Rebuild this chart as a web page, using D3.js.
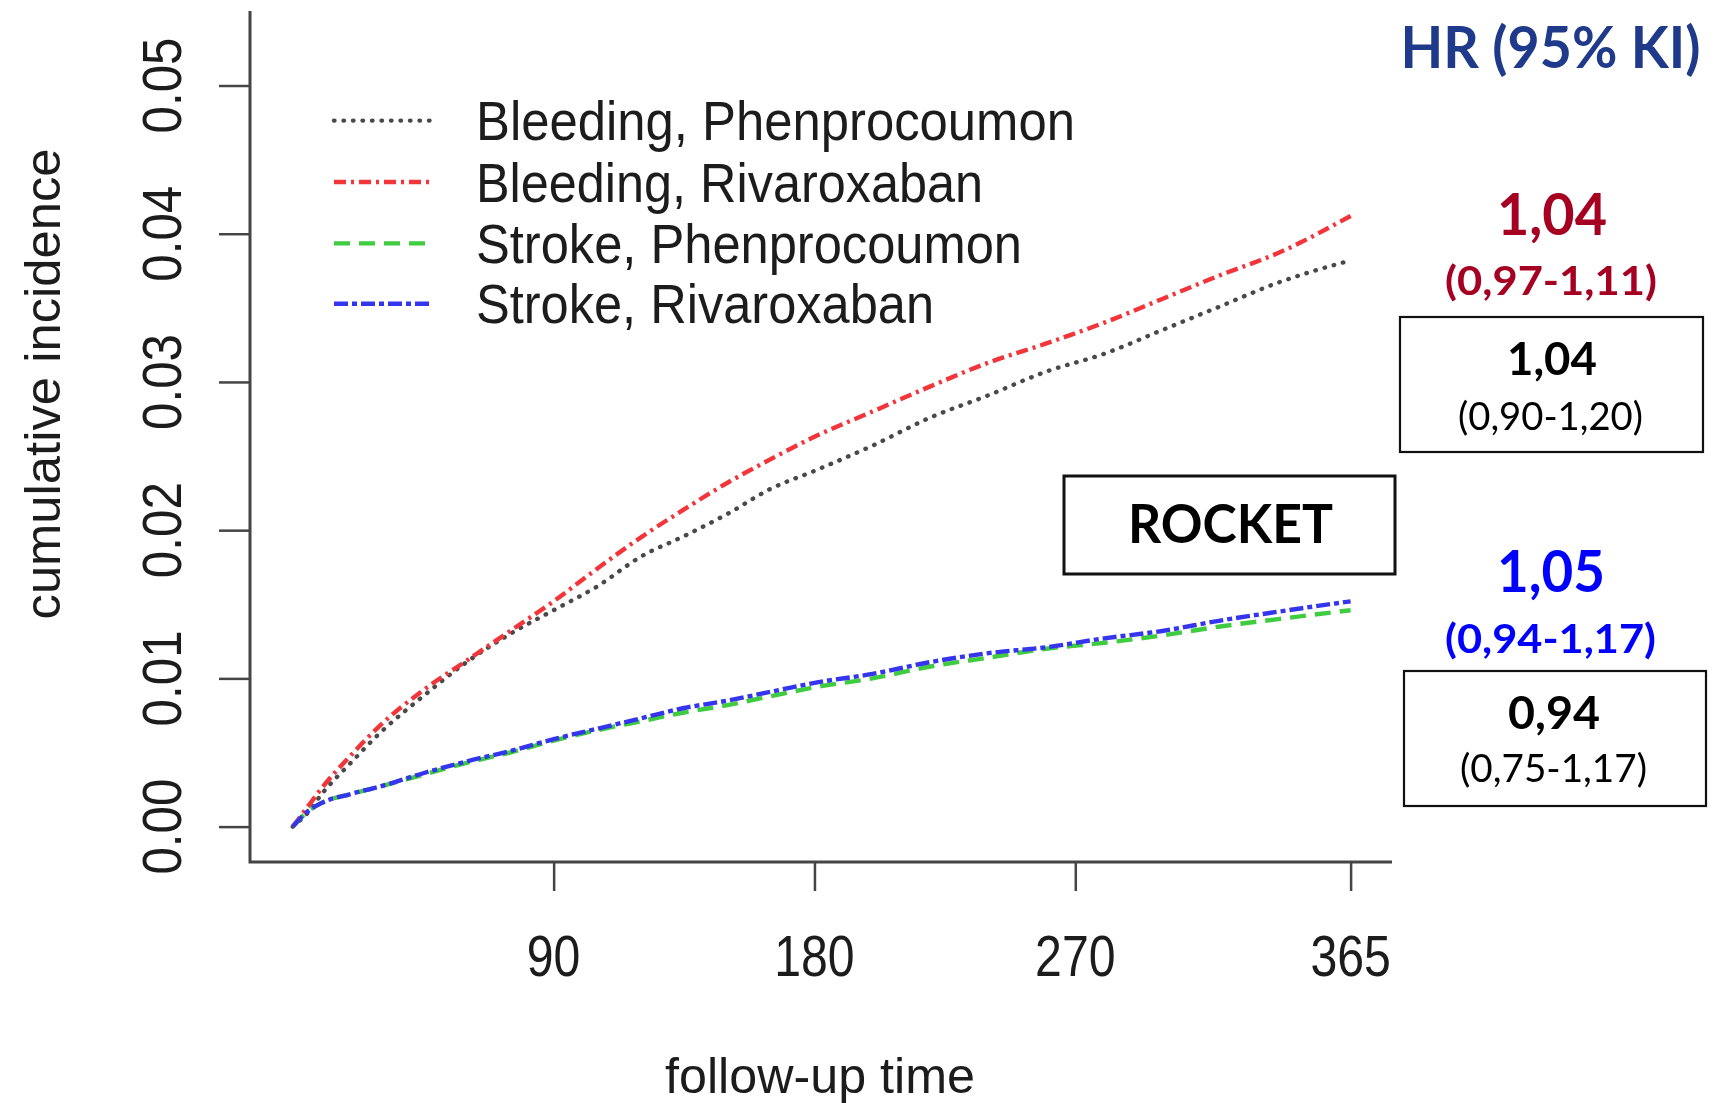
<!DOCTYPE html>
<html>
<head>
<meta charset="utf-8">
<script src="https://cdn.jsdelivr.net/npm/d3@7"></script>
<style>
  html, body { margin: 0; padding: 0; background: #fff; }
  svg { display: block; }
</style>
</head>
<body>
<svg id="chart" width="1719" height="1103"></svg>
<script>
// Follow-up days at which the cumulative incidence curves are sampled
const days = [0, 5, 10, 20, 30, 45, 60, 75, 90, 105, 120, 135, 150, 165, 180, 200, 220, 240, 260, 280, 300, 320, 340, 365];

// Cumulative incidence per series
const bleedingPhenprocoumon = [0, 0.0009, 0.0022, 0.0043, 0.0063, 0.0088, 0.0111, 0.0130, 0.0146, 0.0162, 0.0182, 0.0196, 0.0211, 0.0228, 0.0240, 0.0257, 0.0276, 0.0291, 0.0307, 0.0319, 0.0335, 0.0351, 0.0367, 0.0382];
const bleedingRivaroxaban   = [0, 0.0013, 0.0026, 0.0048, 0.0068, 0.0092, 0.0112, 0.0132, 0.0152, 0.0174, 0.0195, 0.0214, 0.0232, 0.0248, 0.0263, 0.0280, 0.0297, 0.0313, 0.0326, 0.0340, 0.0356, 0.0372, 0.0387, 0.0412];
const strokePhenprocoumon   = [0, 0.0010, 0.0016, 0.0022, 0.0027, 0.0035, 0.0043, 0.0050, 0.0058, 0.0065, 0.0071, 0.0077, 0.0082, 0.0088, 0.0094, 0.0100, 0.0108, 0.0114, 0.0120, 0.0124, 0.0129, 0.0135, 0.0140, 0.0146];
const strokeRivaroxaban     = [0, 0.0010, 0.0016, 0.0022, 0.0027, 0.0036, 0.0044, 0.0051, 0.0059, 0.0066, 0.0073, 0.0080, 0.0085, 0.0091, 0.0097, 0.0103, 0.0111, 0.0117, 0.0121, 0.0127, 0.0132, 0.0139, 0.0145, 0.0152];

const seriesNames = ["Bleeding, Phenprocoumon", "Bleeding, Rivaroxaban", "Stroke, Phenprocoumon", "Stroke, Rivaroxaban"];
const seriesValues = [bleedingPhenprocoumon, bleedingRivaroxaban, strokePhenprocoumon, strokeRivaroxaban];

// Axis ticks
const xTicks = [90, 180, 270, 365];
const yTicks = [0, 0.01, 0.02, 0.03, 0.04, 0.05];

// Hazard ratio annotations
const hrHeader = "HR (95% KI)";
const hrBleeding = ["1,04", "(0,97-1,11)"];
const hrBleedingTrial = ["1,04", "(0,90-1,20)"];
const hrStroke = ["1,05", "(0,94-1,17)"];
const hrStrokeTrial = ["0,94", "(0,75-1,17)"];
const trialName = "ROCKET";

// ---- styling ----
const lineStyles = [
  { color: "#4a4a4a", dash: "0.5,9", cap: "round" },
  { color: "#f2363a", dash: "12,5,3,5", cap: "butt" },
  { color: "#3fcc3f", dash: "16,9", cap: "butt" },
  { color: "#3535ee", dash: "14,4,5,4", cap: "butt" }
];
const plotFont = "'Liberation Sans', Arial, sans-serif";
const noteFont = "Lato, 'Open Sans', sans-serif";
const ink = "#1e1e1e";

const svg = d3.select("#chart");
const defs = svg.append("defs");
defs.append("filter").attr("id", "soft")
  .append("feGaussianBlur").attr("stdDeviation", 0.6);

const x = d3.scaleLinear().domain([0, 365]).range([292.8, 1350.6]);
const y = d3.scaleLinear().domain([0, 0.05]).range([826.6, 85.5]);

const plot = svg.append("g").attr("filter", "url(#soft)");

// L-shaped frame
plot.append("path")
  .attr("d", "M250,11 V862 H1392")
  .attr("fill", "none").attr("stroke", "#444").attr("stroke-width", 3);

// y axis
const yAxis = plot.append("g").attr("transform", "translate(250,0)")
  .call(d3.axisLeft(y).tickValues(yTicks).tickSize(31).tickFormat(""));
yAxis.select(".domain").remove();
yAxis.selectAll(".tick line").attr("stroke", "#444").attr("stroke-width", 2.5);

plot.append("g").selectAll("text").data(yTicks).join("text")
  .attr("transform", d => `translate(181,${y(d)}) rotate(-90)`)
  .attr("text-anchor", "middle")
  .attr("font-family", plotFont).attr("font-size", 56).attr("fill", ink)
  .attr("textLength", 96).attr("lengthAdjust", "spacingAndGlyphs")
  .text(d => d.toFixed(2));

// x axis
const xAxis = plot.append("g").attr("transform", "translate(0,862)")
  .call(d3.axisBottom(x).tickValues(xTicks).tickSize(29).tickFormat(""));
xAxis.select(".domain").remove();
xAxis.selectAll(".tick line").attr("stroke", "#444").attr("stroke-width", 2.5);

plot.append("g").selectAll("text").data(xTicks).join("text")
  .attr("x", d => x(d)).attr("y", 976)
  .attr("text-anchor", "middle")
  .attr("font-family", plotFont).attr("font-size", 57).attr("fill", ink)
  .attr("textLength", d => 26.8 * String(d).length).attr("lengthAdjust", "spacingAndGlyphs")
  .text(d => d);

// axis titles
plot.append("text")
  .attr("transform", "translate(60,384) rotate(-90)")
  .attr("text-anchor", "middle")
  .attr("font-family", plotFont).attr("font-size", 50).attr("fill", ink)
  .attr("textLength", 471).attr("lengthAdjust", "spacingAndGlyphs")
  .text("cumulative incidence");

plot.append("text")
  .attr("x", 820).attr("y", 1093)
  .attr("text-anchor", "middle")
  .attr("font-family", plotFont).attr("font-size", 50).attr("fill", ink)
  .attr("textLength", 310).attr("lengthAdjust", "spacingAndGlyphs")
  .text("follow-up time");

// curves
const line = d3.line()
  .x((d, i) => x(days[i]))
  .y(d => y(d))
  .curve(d3.curveMonotoneX);

plot.append("g").selectAll("path").data(seriesValues).join("path")
  .attr("d", d => line(d))
  .attr("fill", "none")
  .attr("stroke", (d, i) => lineStyles[i].color)
  .attr("stroke-width", 4.4)
  .attr("stroke-dasharray", (d, i) => lineStyles[i].dash)
  .attr("stroke-linecap", (d, i) => lineStyles[i].cap);

// legend
const legendRowY = [120.6, 182, 243.4, 303.7];
const legendTextLen = [599, 507, 546, 458];
const legend = plot.append("g");
legend.selectAll("line").data(seriesNames).join("line")
  .attr("x1", 334).attr("x2", 430)
  .attr("y1", (d, i) => legendRowY[i]).attr("y2", (d, i) => legendRowY[i])
  .attr("stroke", (d, i) => lineStyles[i].color)
  .attr("stroke-width", 4.4)
  .attr("stroke-dasharray", (d, i) => lineStyles[i].dash)
  .attr("stroke-linecap", (d, i) => lineStyles[i].cap);
legend.selectAll("text").data(seriesNames).join("text")
  .attr("x", 476).attr("y", (d, i) => legendRowY[i] + 19.5)
  .attr("font-family", plotFont).attr("font-size", 55).attr("fill", ink)
  .attr("textLength", (d, i) => legendTextLen[i]).attr("lengthAdjust", "spacingAndGlyphs")
  .text(d => d);

// ---- hazard ratio annotations ----
const notes = svg.append("g").attr("font-family", noteFont);

function note(txt, cx, baseline, size, len, color, weight) {
  notes.append("text")
    .attr("x", cx).attr("y", baseline)
    .attr("text-anchor", "middle")
    .attr("font-size", size).attr("font-weight", weight).attr("fill", color)
    .attr("textLength", len).attr("lengthAdjust", "spacingAndGlyphs")
    .text(txt);
}
function box(x0, y0, x1, y1, sw) {
  notes.append("rect")
    .attr("x", x0).attr("y", y0).attr("width", x1 - x0).attr("height", y1 - y0)
    .attr("fill", "#fff").attr("stroke", "#111").attr("stroke-width", sw);
}

note(hrHeader, 1550.5, 68, 58, 300, "#1f3a8a", 700);

note(hrBleeding[0], 1552, 235, 57, 110, "#a50021", 700);
note(hrBleeding[1], 1551, 295, 40, 212, "#a50021", 700);
box(1400, 317, 1703, 452, 2.2);
note(hrBleedingTrial[0], 1552, 375, 45, 90, "#000", 700);
note(hrBleedingTrial[1], 1550.5, 430, 39, 185, "#000", 400);

box(1064, 476, 1395, 574, 3);
note(trialName, 1230.5, 543, 53, 205, "#000", 700);

note(hrStroke[0], 1551, 592, 57, 108, "#0000ff", 700);
note(hrStroke[1], 1550.5, 653, 40, 211, "#0000ff", 700);
box(1404, 671, 1706, 806, 2.2);
note(hrStrokeTrial[0], 1554, 729, 45, 92, "#000", 700);
note(hrStrokeTrial[1], 1553.5, 782, 39, 187, "#000", 400);
</script>
</body>
</html>
